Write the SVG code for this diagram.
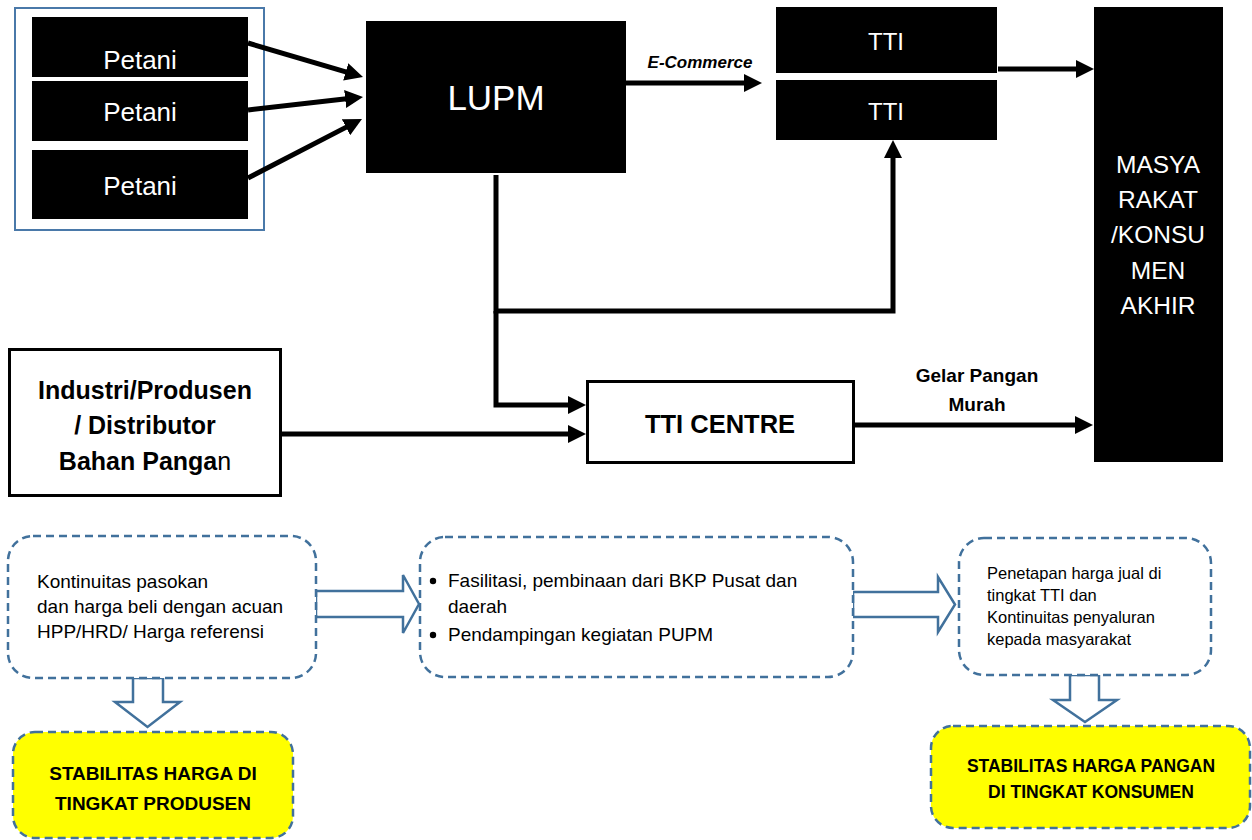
<svg xmlns="http://www.w3.org/2000/svg" width="1252" height="840" viewBox="0 0 1252 840">
<style>
.blk{fill:#000}
.wt{fill:#fff;font-family:"Liberation Sans",Arial,sans-serif;text-anchor:middle}
.bt{fill:#000;font-family:"Liberation Sans",Arial,sans-serif;font-weight:bold;text-anchor:middle}
.rt{fill:#000;font-family:"Liberation Sans",Arial,sans-serif}
.conn{fill:none;stroke:#000;stroke-width:5;marker-end:url(#ah)}
.dash{fill:#fff;stroke:#41719c;stroke-width:2.5;stroke-dasharray:8 5}
.yel{fill:#ffff00;stroke:#41719c;stroke-width:2.5;stroke-dasharray:8 5}
.barrow{fill:#fff;stroke:#41719c;stroke-width:2.5;stroke-linejoin:miter}
</style>
<defs>
<marker id="ah" markerUnits="userSpaceOnUse" markerWidth="18" markerHeight="18" refX="8" refY="9" orient="auto" viewBox="0 0 18 18">
<path d="M0,0 L18,9 L0,18 z" fill="#000"/>
</marker>
</defs>
<rect width="1252" height="840" fill="#fff"/>

<g id="petani-group">
<rect x="15" y="8" width="249" height="222" fill="#fff" stroke="#4a79a9" stroke-width="2"/>
</g>
<g id="petani1"><rect class="blk" x="32" y="17" width="216" height="60"/><text class="wt" x="140" y="69" font-size="26">Petani</text></g>
<g id="petani2"><rect class="blk" x="32" y="81" width="216" height="60"/><text class="wt" x="140" y="121" font-size="26">Petani</text></g>
<g id="petani3"><rect class="blk" x="32" y="150" width="216" height="69"/><text class="wt" x="140" y="195" font-size="26">Petani</text></g>

<g id="lupm"><rect class="blk" x="366" y="21" width="260" height="152"/><text class="wt" x="496" y="110" font-size="35">LUPM</text></g>

<g id="tti1"><rect class="blk" x="776" y="7" width="221" height="66"/><text class="wt" x="886" y="50" font-size="24">TTI</text></g>
<g id="tti2"><rect class="blk" x="776" y="80" width="221" height="60"/><text class="wt" x="886" y="120" font-size="24">TTI</text></g>

<g id="masyarakat">
<rect class="blk" x="1094" y="7" width="129" height="455"/>
<text class="wt" font-size="24.5"><tspan x="1158" y="173">MASYA</tspan><tspan x="1158" y="208">RAKAT</tspan><tspan x="1158" y="243">/KONSU</tspan><tspan x="1158" y="279">MEN</tspan><tspan x="1158" y="314">AKHIR</tspan></text>
</g>

<g id="industri">
<rect x="9.5" y="349.5" width="271" height="146" fill="#fff" stroke="#000" stroke-width="3"/>
<text class="bt" font-size="25"><tspan x="145" y="399">Industri/Produsen</tspan><tspan x="145" y="434">/ Distributor</tspan><tspan x="145" y="470">Bahan Panga<tspan font-weight="normal">n</tspan></tspan></text>
</g>

<g id="tti-centre">
<rect x="587.5" y="381.5" width="266" height="81" fill="#fff" stroke="#000" stroke-width="3"/>
<text class="bt" x="720" y="433" font-size="25.5">TTI CENTRE</text>
</g>

<g id="connectors">
<line class="conn" x1="248" y1="43" x2="353.4" y2="74.2"/>
<line class="conn" x1="248" y1="110" x2="353.1" y2="98.1"/>
<line class="conn" x1="248" y1="178" x2="353.1" y2="123.6"/>
<line class="conn" x1="626" y1="83" x2="752" y2="83" stroke-width="4.5"/>
<line class="conn" x1="998" y1="69" x2="1084" y2="69"/>
<path class="conn" d="M496,175 V311 H893 V150"/>
<path class="conn" d="M496,311 V405 H576"/>
<line class="conn" x1="282" y1="434" x2="576" y2="434"/>
<line class="conn" x1="853" y1="425" x2="1083" y2="425"/>
<text class="bt" x="700" y="68" font-size="17" font-style="italic">E-Commerce</text>
<text class="bt" font-size="19"><tspan x="977" y="382">Gelar Pangan</tspan><tspan x="977" y="411">Murah</tspan></text>
</g>

<g id="block-arrows">
<path class="barrow" d="M316,591 H403 V575 L419,604 L403,633 V617 H316 Z"/>
<path class="barrow" d="M853,592 H938 V577 L955,604.5 L938,632 V617 H853 Z"/>
<path class="barrow" d="M133,678 V702 H115 L147.5,727 L180,702 H163 V678 Z"/>
<path class="barrow" d="M1070,675 V700 H1053 L1085,722 L1117,700 H1099 V675 Z"/>
</g>

<g id="box-produsen">
<rect class="dash" x="8" y="536" width="308" height="142" rx="25"/>
<text class="rt" font-size="19"><tspan x="37" y="588">Kontinuitas pasokan</tspan><tspan x="37" y="613">dan harga beli dengan acuan</tspan><tspan x="37" y="638">HPP/HRD/ Harga referensi</tspan></text>
</g>

<g id="box-fasilitasi">
<rect class="dash" x="420" y="537" width="433" height="140" rx="25"/>
<circle cx="433" cy="581" r="3.2" fill="#000"/>
<circle cx="433" cy="635" r="3.2" fill="#000"/>
<text class="rt" font-size="19"><tspan x="448" y="587">Fasilitasi, pembinaan dari BKP Pusat dan</tspan><tspan x="448" y="613">daerah</tspan><tspan x="448" y="641">Pendampingan kegiatan PUPM</tspan></text>
</g>

<g id="box-penetapan">
<rect class="dash" x="959" y="538" width="252" height="137" rx="25"/>
<text class="rt" font-size="16.5"><tspan x="987" y="579">Penetapan harga jual di</tspan><tspan x="987" y="601">tingkat TTI dan</tspan><tspan x="987" y="623">Kontinuitas penyaluran</tspan><tspan x="987" y="645">kepada masyarakat</tspan></text>
</g>

<g id="stab-produsen">
<rect class="yel" x="13" y="732" width="280" height="106" rx="22"/>
<text class="bt" font-size="19"><tspan x="153" y="780">STABILITAS HARGA DI</tspan><tspan x="153" y="810">TINGKAT PRODUSEN</tspan></text>
</g>

<g id="stab-konsumen">
<rect class="yel" x="931" y="726" width="319" height="102" rx="22"/>
<text class="bt" font-size="17.5"><tspan x="1091" y="772">STABILITAS HARGA PANGAN</tspan><tspan x="1091" y="798">DI TINGKAT KONSUMEN</tspan></text>
</g>
</svg>
